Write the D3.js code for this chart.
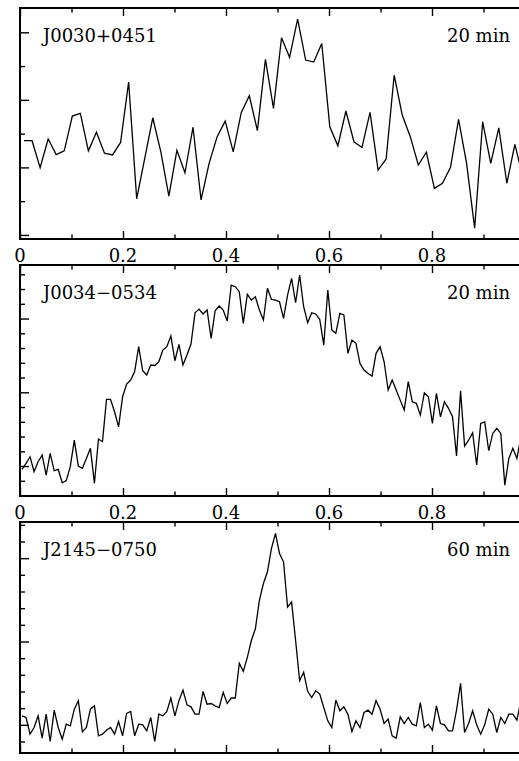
<!DOCTYPE html>
<html>
<head>
<meta charset="utf-8">
<script src="https://cdn.jsdelivr.net/npm/d3@7.9.0/dist/d3.min.js"></script>
<style>
  html, body { margin: 0; padding: 0; background: #fff; }
  svg { display: block; overflow: hidden; }
  text { font-family: "DejaVu Serif", serif; fill: #000; }
</style>
</head>
<body>
<div id="vis"></div>
<script>
// pulse profiles (arbitrary flux units)
const names     = ['J0030+0451', 'J0034\u22120534', 'J2145\u22120750'];
const durations = ['20 min', '20 min', '60 min'];

// 64 phase bins
const profJ0030 = [
  2.79, 2.79, 1.99, 2.84, 2.38, 2.49, 3.52, 3.60, 2.49, 3.04, 2.42, 2.37, 2.74, 4.53, 1.07, 2.27,
  3.47, 2.46, 1.15, 2.51, 1.84, 3.19, 1.04, 2.12, 2.91, 3.37, 2.46, 3.63, 4.12, 3.09, 5.20, 3.75,
  5.84, 5.26, 6.39, 5.18, 5.12, 5.67, 3.20, 2.64, 3.67, 2.76, 2.59, 3.63, 1.92, 2.25, 4.73, 3.55,
  2.91, 2.07, 2.45, 1.38, 1.53, 2.00, 3.42, 2.12, 0.20, 3.35, 2.12, 3.17, 1.53, 2.68, 1.70, 2.50
];
// 128 phase bins
const profJ0034 = [
  -0.23, 0.18, 0.63, -0.38, 0.29, 0.75, -0.61, 0.86, -0.32, -0.23, -1.13, -0.99, -0.04, 1.76, 0.00, -0.16,
  0.52, 1.20, -1.17, 1.83, 1.65, 4.52, 4.52, 3.68, 2.66, 4.70, 5.56, 5.83, 6.40, 8.09, 6.46, 6.17,
  6.85, 6.82, 7.07, 7.86, 8.09, 8.81, 7.14, 8.25, 6.85, 7.53, 8.27, 10.39, 10.64, 10.31, 10.58, 8.66,
  10.53, 10.85, 10.58, 9.83, 12.27, 12.16, 11.82, 9.67, 11.64, 11.25, 11.47, 10.58, 9.90, 12.05, 11.30, 11.25,
  11.14, 10.01, 11.59, 12.72, 11.07, 12.95, 10.80, 9.72, 10.39, 10.31, 9.94, 8.20, 11.93, 9.22, 9.00, 10.35,
  10.24, 7.64, 8.54, 8.32, 6.96, 6.51, 6.28, 6.10, 7.64, 8.09, 7.07, 5.15, 5.83, 5.15, 4.47, 3.80,
  5.72, 4.36, 4.25, 3.46, 4.97, 4.70, 2.89, 4.93, 3.34, 4.36, 3.91, 3.34, 0.68, 5.11, 1.36, 1.76,
  2.26, 0.07, 2.89, 3.00, 1.04, 2.21, 2.56, 2.21, -1.29, 0.52, 1.20, 0.52, 1.99, 1.50, 0.80, 1.20
];
const profJ2145 = [
  0.54, 0.44, -0.56, -0.16, 0.54, -0.80, 0.64, -1.00, 0.88, -0.16, -0.86, 0.04, -0.06, 0.94, 1.45, -0.42,
  -0.16, 0.94, 1.14, -0.66, -0.56, -0.32, -0.16, -0.56, 0.20, -0.66, 0.68, 0.80, -0.66, 0.04, 0.00, -0.36,
  0.44, -1.00, 0.64, 0.54, 0.80, 1.61, 0.54, 1.45, 2.09, 1.20, 1.08, 0.64, 0.64, 2.01, 1.24, 1.28,
  1.14, 1.04, 1.95, 1.28, 1.61, 1.61, 3.69, 3.21, 4.05, 5.06, 5.76, 7.47, 8.48, 9.18, 10.58, 11.49,
  10.28, 9.78, 7.07, 7.37, 5.06, 2.65, 3.15, 2.01, 1.64, 2.05, 1.85, 1.04, 0.24, -0.16, 1.49, 0.84,
  1.08, 0.64, -0.40, 0.24, -0.16, 0.74, 0.88, 0.64, 1.45, 0.94, 0.08, 0.34, -0.66, -0.80, 0.48, 0.08,
  0.44, 0.04, -0.06, 1.34, -0.16, 0.04, -0.32, 1.14, 0.08, 0.00, -0.36, -0.36, 0.88, 2.49, -0.46, 0.08,
  0.84, 0.00, -0.56, 0.00, 0.94, 0.64, -0.46, 0.44, 0.08, 0.64, 0.64, 0.28, 1.45, 1.00, 0.50, 0.30
];
const profiles = [profJ0030, profJ0034, profJ2145];

const xMajor  = [0, 0.2, 0.4, 0.6, 0.8, 1.0];
const xLabels = [0, 0.2, 0.4, 0.6, 0.8];
const xMinor  = [0.1, 0.3, 0.5, 0.7, 0.9];
const yMajor = [[0, 2, 4, 6], [0, 5, 10], [0, 5, 10]];
const yMinor = [[1, 3, 5], [-2, -1, 1, 2, 3, 4, 6, 7, 8, 9, 11, 12, 13], [-1, 1, 2, 3, 4, 6, 7, 8, 9, 11, 12]];
const yDomains = [[-0.12, 6.72], [-2.03, 13.63], [-1.69, 12.17]];

const W = 519, H = 761;
const left = 20, right = 535, panelH = 231;
const tops = [8, 265, 522];

const svg = d3.select('#vis').append('svg')
    .attr('width', W).attr('height', H);

const x = d3.scaleLinear().domain([0, 1]).range([left, right]);
const fmt = d => d === 0 ? '0' : d3.format('.1f')(d);

profiles.forEach((prof, k) => {
  const top = tops[k], bot = top + panelH;
  const y = d3.scaleLinear().domain(yDomains[k]).range([bot, top]);
  const g = svg.append('g');

  g.append('clipPath').attr('id', 'clip' + k)
    .append('rect').attr('x', left).attr('y', top).attr('width', right - left).attr('height', panelH);

  // bottom axis ticks
  g.append('g').attr('transform', `translate(0,${bot})`)
    .call(d3.axisBottom(x).tickValues(xMajor).tickSize(-8).tickFormat(''));
  g.append('g').attr('transform', `translate(0,${bot})`)
    .call(d3.axisBottom(x).tickValues(xMinor).tickSize(-4.5).tickFormat(''));

  // tick labels under the first two panels
  if (k < 2) {
    g.selectAll('text.xl')
      .data(xLabels)
      .join('text')
        .attr('class', 'xl')
        .attr('x', d => x(d))
        .attr('y', bot + 23)
        .attr('text-anchor', 'middle')
        .style('font-size', '18px')
        .text(fmt);
  }

  // top axis
  g.append('g').attr('transform', `translate(0,${top})`)
    .call(d3.axisTop(x).tickValues(xMajor).tickSize(-8).tickFormat(''));
  g.append('g').attr('transform', `translate(0,${top})`)
    .call(d3.axisTop(x).tickValues(xMinor).tickSize(-4.5).tickFormat(''));

  // left axis
  g.append('g').attr('transform', `translate(${left},0)`)
    .call(d3.axisLeft(y).tickValues(yMajor[k]).tickSize(-9).tickFormat(''));
  g.append('g').attr('transform', `translate(${left},0)`)
    .call(d3.axisLeft(y).tickValues(yMinor[k]).tickSize(-5).tickFormat(''));

  g.selectAll('.domain').remove();
  g.selectAll('.tick line').attr('stroke', '#000').attr('stroke-width', 1.4);

  // frame
  g.append('rect')
    .attr('x', left).attr('y', top)
    .attr('width', right - left).attr('height', panelH)
    .attr('fill', 'none').attr('stroke', '#000').attr('stroke-width', 2);

  // profile
  const n = prof.length;
  const line = d3.line()
    .x((d, i) => x((i + 0.5) / n))
    .y(d => y(d));
  g.append('path')
    .datum(prof)
    .attr('clip-path', `url(#clip${k})`)
    .attr('d', line)
    .attr('fill', 'none')
    .attr('stroke', '#000')
    .attr('stroke-width', 1.3)
    .attr('stroke-linejoin', 'miter');

  // labels
  g.append('text')
    .attr('x', 43).attr('y', top + 34)
    .style('font-size', '18px')
    .text(names[k]);
  g.append('text')
    .attr('x', 510).attr('y', top + 34)
    .attr('text-anchor', 'end')
    .style('font-size', '18px')
    .text(durations[k]);
});
</script>
</body>
</html>
